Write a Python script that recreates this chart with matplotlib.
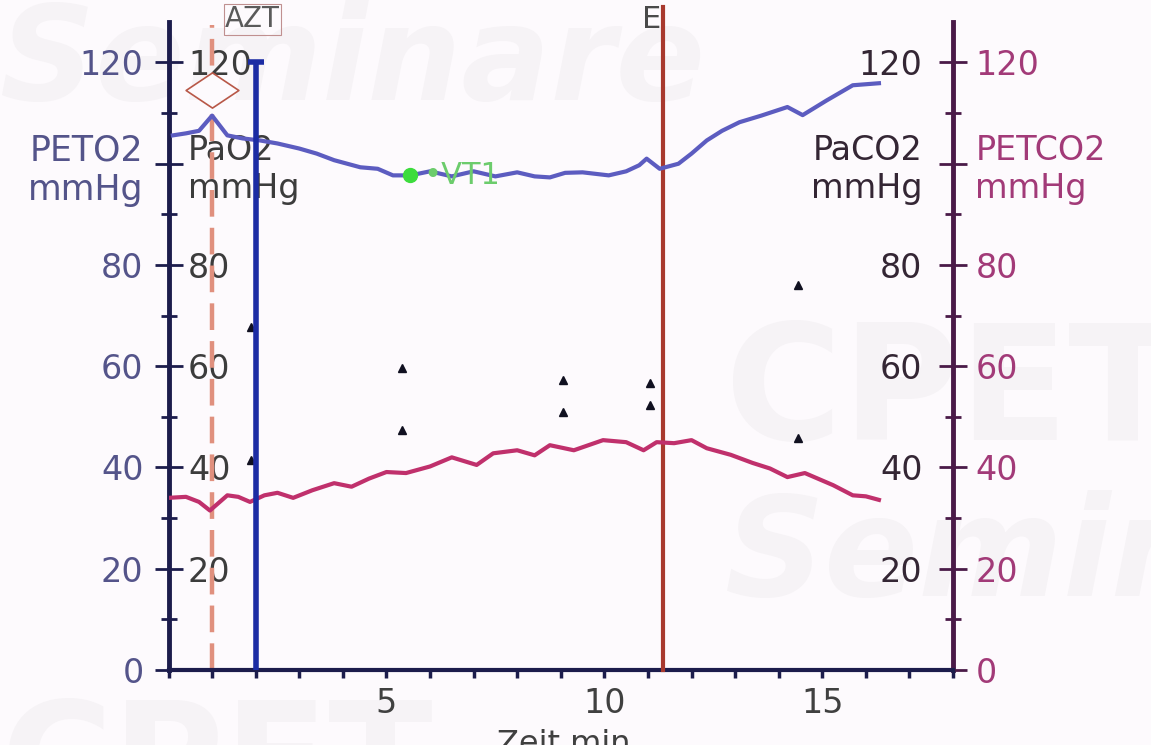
import numpy as np
import matplotlib.pyplot as plt
from matplotlib.path import Path

plt.rcParams['font.family'] = ['DejaVu Sans']

# ---- data -----------------------------------------------------------------
# end-tidal O2 (mmHg) over time (min)
peto2_t = [0.1, 0.4, 0.7, 1.0, 1.35, 1.7, 2.1, 2.5, 3.0, 3.4, 3.8, 4.4, 4.8,
           5.15, 5.55, 6.0, 6.5, 7.0, 7.5, 8.0, 8.4, 8.75, 9.1, 9.5, 10.1,
           10.5, 10.8, 10.97, 11.27, 11.7, 12.0, 12.35, 12.7, 13.1, 13.6,
           14.2, 14.55, 15.1, 15.7, 16.3]
peto2 = [105.6, 106.0, 106.5, 109.5, 105.6, 105.0, 104.6, 104.0, 103.0, 102.0,
         100.7, 99.3, 99.0, 97.7, 97.7, 98.5, 97.5, 98.5, 97.5, 98.3, 97.5,
         97.3, 98.2, 98.3, 97.7, 98.5, 99.7, 101.0, 99.0, 100.0, 102.0, 104.6,
         106.5, 108.2, 109.5, 111.2, 109.6, 112.5, 115.5, 115.9]

# end-tidal CO2 (mmHg) over time (min)
petco2_t = [0.0, 0.4, 0.7, 0.95, 1.35, 1.6, 1.87, 2.2, 2.5, 2.86, 3.3, 3.8,
            4.2, 4.6, 5.0, 5.45, 6.0, 6.5, 7.07, 7.45, 8.0, 8.4, 8.75, 9.3,
            9.97, 10.5, 10.9, 11.2, 11.6, 12.0, 12.35, 12.9, 13.4, 13.8, 14.2,
            14.6, 15.25, 15.7, 16.0, 16.3]
petco2 = [34.0, 34.2, 33.2, 31.5, 34.5, 34.2, 33.2, 34.5, 35.0, 34.0, 35.5,
          36.9, 36.2, 37.8, 39.1, 38.9, 40.2, 42.0, 40.5, 42.8, 43.4, 42.4,
          44.4, 43.4, 45.4, 45.0, 43.4, 45.0, 44.8, 45.4, 43.8, 42.5, 40.9,
          39.8, 38.1, 38.9, 36.5, 34.5, 34.3, 33.6]

# blood gas samples (PaO2 / PaCO2)
sample_t = [1.9, 1.9, 5.35, 5.35, 9.05, 9.05, 11.05, 11.05, 14.45, 14.45]
sample_v = [67.7, 41.5, 59.6, 47.4, 57.3, 51.0, 56.7, 52.3, 76.0, 45.8]

# events
azt_t, azt_mark = 1.0, 114.5
load_t, load_top = 2.0, 120
e_t = 11.35
vt1_t, vt1_v = 5.55, 97.7

yticks = [0, 20, 40, 60, 80, 100, 120]
left_out = ['0', '20', '40', '60', '80', 'PETO2\nmmHg', '120']
left_in = ['', '20', '40', '60', '80', 'PaO2\nmmHg', '120']
right_in = ['', '20', '40', '60', '80', 'PaCO2\nmmHg', '120']
right_out = ['0', '20', '40', '60', '80', 'PETCO2\nmmHg', '120']
xticks = [5, 10, 15]

# ---- figure ---------------------------------------------------------------
bg = '#fdfafd'
fig = plt.figure(figsize=(11.51, 7.45), dpi=100, facecolor=bg)

# faint background lettering
wm = '#f6f3f6'
fig.text(0.0, 1.0, 'Seminare', fontsize=95, style='italic', weight='bold',
         color=wm, va='top', zorder=-5)
fig.text(0.63, 0.41, 'CPET', fontsize=115, weight='bold', color=wm, zorder=-5)
fig.text(0.63, 0.2, 'Semin', fontsize=100, style='italic', weight='bold',
         color=wm, zorder=-5)
fig.text(0.0, -0.09, 'CPET', fontsize=110, weight='bold', color=wm, zorder=-5)

ax = fig.add_axes([0.1464, 0.1007, 0.6816, 0.8698])
ax_in = ax.twinx()
ax_r = ax.twinx()
ax_rin = ax.twinx()
ax.set_zorder(3)
ax.patch.set_visible(False)

navy = '#1c1c4c'
plum = '#4a1a48'
for a in (ax, ax_in, ax_r, ax_rin):
    a.set_ylim(0, 128)
    a.set_xlim(0, 18)
    for s in a.spines.values():
        s.set_visible(False)

# left axis, outer labels
ax.spines['left'].set_visible(True)
ax.spines['left'].set_color(navy)
ax.spines['left'].set_linewidth(3.5)
ax.spines['bottom'].set_visible(True)
ax.spines['bottom'].set_color(navy)
ax.spines['bottom'].set_linewidth(3)
ax.set_yticks(yticks, left_out)
ax.set_yticks(np.arange(10, 130, 20), minor=True)
ax.tick_params(axis='y', which='major', direction='inout', length=20, width=2,
               color=navy, labelsize=24, labelcolor='#54548a', pad=8)
ax.tick_params(axis='y', which='minor', direction='inout', length=12, width=2,
               color=navy)

# x axis
ax.set_xticks(xticks)
ax.set_xticks(np.arange(0, 19, 1), minor=True)
ax.tick_params(axis='x', which='both', direction='out', length=6, width=2.5,
               color=navy, labelsize=24, labelcolor='#404040', pad=6)

# left axis, inner labels
ax_in.yaxis.tick_right()
ax_in.spines['right'].set_position(('axes', 0))
ax_in.set_yticks(yticks, left_in)
ax_in.tick_params(axis='y', length=0, labelsize=24, labelcolor='#3c3c3c', pad=14)

# right axis, outer labels
ax_r.spines['right'].set_visible(True)
ax_r.spines['right'].set_color(plum)
ax_r.spines['right'].set_linewidth(3.5)
ax_r.set_yticks(yticks, right_out)
ax_r.set_yticks(np.arange(10, 130, 20), minor=True)
ax_r.tick_params(axis='y', which='major', direction='inout', length=20, width=2,
                 color=plum, labelsize=24, labelcolor='#a23a78', pad=6)
ax_r.tick_params(axis='y', which='minor', direction='inout', length=12, width=2,
                 color=plum)

# right axis, inner labels
ax_rin.yaxis.tick_left()
ax_rin.spines['left'].set_position(('axes', 1))
ax_rin.set_yticks(yticks, right_in)
ax_rin.tick_params(axis='y', length=0, labelsize=24, labelcolor='#342634', pad=22)

# axis names sit where the 100 label would be
for a in (ax, ax_in, ax_r, ax_rin):
    a.get_yticklabels()[5].set_fontsize(24)
ax.get_yticklabels()[5].set_fontsize(25)

fig.text(0.49, 0.022, 'Zeit min', fontsize=23, color='#404040', ha='center',
         va='top')

# ---- marks ----------------------------------------------------------------
ax.plot([azt_t, azt_t], [0, 127.5], color='#e0907e', lw=3.2,
        dashes=(6, 2.5), zorder=2, clip_on=False)
diamond = Path([(-1.5, 0), (0, 1), (1.5, 0), (0, -1), (-1.5, 0)],
               [Path.MOVETO, Path.LINETO, Path.LINETO, Path.LINETO,
                Path.CLOSEPOLY])
ax.plot(azt_t, azt_mark, marker=diamond, markersize=38, mfc=bg,
        mec='#b85848', mew=1.2, zorder=3, linestyle='none')
ax.text(azt_t + 0.3, 128.5, 'AZT', fontsize=20, color='#5a5a5a',
        va='center', ha='left', clip_on=False,
        bbox=dict(boxstyle='square,pad=0.05', fc='none', ec='#c09090', lw=0.8))

ax.plot([e_t, e_t], [0, 131], color='#a8392e', lw=3, zorder=4, clip_on=False)
ax.text(e_t - 0.05, 128.5, 'E', fontsize=22, color='#4a4a4a', ha='right',
        va='center', clip_on=False)

ax.plot(petco2_t, petco2, color='#c0306c', lw=3, zorder=5)
ax.plot(peto2_t, peto2, color='#5c5cc0', lw=3, zorder=5)

ax.plot([load_t, load_t], [0, load_top], color='#1c2ca4', lw=4, zorder=6,
        solid_capstyle='butt')
ax.plot(load_t, load_top, marker='_', markersize=11, mew=4, color='#1c2ca4',
        zorder=6)

ax.plot(sample_t, sample_v, linestyle='none', marker='^', markersize=6,
        color='#101020', zorder=5)

ax.plot(vt1_t, vt1_v, 'o', markersize=10, color='#3ddc3d', zorder=7)
ax.text(vt1_t + 0.3, vt1_v, '\u2022VT1', fontsize=22, color='#6ccc6c',
        va='center', zorder=7)

fig.savefig('out.png', dpi=100, facecolor=bg)
